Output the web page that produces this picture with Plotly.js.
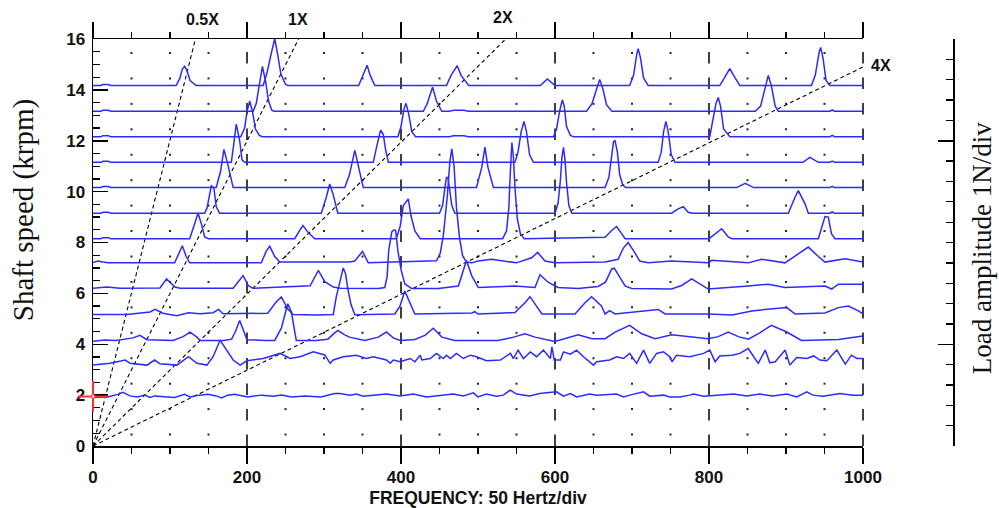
<!DOCTYPE html>
<html>
<head>
<meta charset="utf-8">
<script src="https://cdn.plot.ly/plotly-3.0.1.min.js"></script>
<style>html,body{margin:0;padding:0;background:#fff;}#chart{width:999px;height:508px;}</style>
</head>
<body>
<div id="chart"></div>
<script>
// Shaft speed of each spectrum (krpm) = baseline of each trace
const speedsKrpm = [1.96, 3.18, 4.15, 5.17, 6.17, 7.18, 8.15, 9.15, 10.16, 11.15, 12.16, 13.16, 14.17];

// Each spectrum: [frequency Hz, load amplitude offset (in speed-axis units)]
const spectrum02 = [[0,-0.05],[19,-0.03],[32,0.07],[39,0.15],[48,0.01],[58,-0.03],[67,0.04],[74,-0.05],[80,0.01],[93,-0.03],[106,-0.05],[119,0.07],[126,-0.03],[138,0.04],[149,0.07],[160,0.01],[167,-0.07],[175,0.04],[184,0.07],[201,-0.03],[219,0.04],[234,0],[245,0.04],[258,-0.03],[275,0.01],[296,-0.03],[314,0.1],[321,0.1],[334,0.04],[342,0.08],[351,0],[364,0.04],[381,0.08],[399,0.01],[416,0.08],[433,-0.03],[451,0.04],[468,0.08],[481,0.01],[494,0.13],[500,-0.03],[511,0.08],[524,0],[533,0.04],[542,0.24],[550,0.08],[567,0.01],[580,0.1],[602,0.17],[611,0],[620,0.1],[628,-0.03],[645,0.08],[654,0.04],[680,0.08],[689,-0.03],[697,0.04],[715,0.17],[723,0],[741,0.04],[749,-0.03],[762,-0.03],[775,0.04],[780,0.08],[793,0],[814,0.04],[832,0.08],[849,0.01],[866,0.08],[883,0.01],[901,0.08],[914,-0.03],[927,0.17],[935,0.04],[948,0],[970,0.1],[987,0.04],[1000,0.04]];
const spectrum03 = [[0,0],[22,0.07],[42,0.2],[48,0.07],[70,0],[80,0.2],[87,0.05],[109,0],[124,0.33],[135,0.07],[148,0],[156,0.33],[165,0.98],[174,0.59],[182,0.2],[191,0],[200,0.17],[221,0.26],[243,0.46],[256,0.26],[269,0.33],[286,0.52],[301,0.4],[308,0.07],[312,0.2],[325,0.33],[342,0.39],[355,0.26],[364,0.33],[381,0.2],[386,0.07],[390,0.2],[399,0.13],[412,0.26],[418,0.13],[425,0.39],[427,0.2],[438,0.26],[446,0.46],[455,0.26],[459,0.39],[464,0.26],[472,0.46],[481,0.26],[490,0.39],[498,0.33],[511,0.17],[529,0.2],[542,0.46],[546,0.26],[552,0.59],[559,0.26],[568,0.52],[576,0.33],[585,0.59],[594,0.26],[596,0.72],[599,0.2],[607,0.2],[611,0.52],[620,0.43],[628,0.59],[637,0.33],[650,0],[654,0.13],[671,0.2],[680,0.33],[689,0.26],[697,0.46],[706,0.07],[715,0.59],[723,0.07],[732,0.46],[741,0.52],[749,0.33],[752,0.13],[758,0.39],[775,0.33],[793,0.46],[801,0.59],[808,0.13],[814,0.36],[830,0.39],[840,0.46],[851,0.65],[858,0.33],[864,0.07],[873,0.59],[879,0.09],[886,0.13],[899,0.59],[905,0],[914,0.3],[927,0.26],[936,0.36],[944,0.2],[953,0.17],[966,0.59],[977,0.04],[985,0.39],[992,0.26],[1000,0.26]];
const spectrum04 = [[0,-0.03],[15,0.02],[30,0],[52,0.1],[61,0.2],[70,0.03],[104,0],[117,0.15],[126,0.33],[135,0.13],[139,0],[170,0],[180,0.05],[185,0.35],[190.5,0.78],[195,0.4],[200,0.03],[225,0],[236,0],[244.6,0.48],[249,0.99],[253,1.44],[257.5,1.13],[261,0.48],[264,0],[290,0],[305,0.05],[312,0.25],[318,0.39],[327,0.22],[333,0.13],[353,0],[370.5,0.13],[381,0.33],[390,0.1],[399,0],[418,0.04],[431,0.2],[442,0.48],[453,0.13],[470,0],[526,0],[545,0.12],[561,0.26],[574,0.13],[600,-0.04],[615,0.1],[630,0.22],[648,0.07],[665,0.07],[678,0.33],[697,0.59],[712.6,0.26],[730,0.07],[751.5,0.22],[769,0.17],[799,0.07],[812,0.15],[825,0.33],[838,0.15],[851,0.05],[866,0.3],[881,0.59],[901,0.33],[920,0],[968,0.04],[998,0.17],[1000,0.17]];
const spectrum05 = [[0,0],[44,0],[74,0.1],[80.5,0.2],[91,0.05],[108.7,-0.05],[124,0.07],[139,0.03],[156,0.07],[163,0.2],[169,0.03],[200,0.03],[227,0.05],[238,0.5],[244.6,0.69],[253,0.21],[260,0],[290,-0.02],[312,0],[316,0.7],[320,1.2],[323,1.6],[325,1.83],[328,1.6],[331,1.0],[335,0.4],[340,-0.01],[392,0.02],[398.7,0.33],[405,0.92],[411.7,0.46],[418,0.02],[492,0.06],[496,0.11],[500,0.02],[548,0.08],[561,0.46],[567.5,0.7],[576,0.33],[583,0.02],[626,0.02],[639,0.46],[647.6,0.7],[660.6,0.33],[665,0.02],[671,0.15],[678,0.02],[734,0.2],[743,0.02],[799,0.02],[830,-0.02],[855.5,0.14],[868,0.18],[901,0.27],[912,0.02],[950.6,0.06],[968,0.27],[981,0.33],[994,0.14],[1000,0.02]];
const spectrum06 = [[0,0.03],[18,0.08],[35,0.03],[87,0.04],[95.6,0.4],[106.5,0.08],[113,0.03],[182,0.03],[195,0.53],[201.7,0.13],[208,0.03],[282,0.13],[292.6,0.73],[301,0.29],[312,0.08],[321,0.03],[370.5,0.02],[379,0.06],[382,0.5],[384,1.5],[388,2.25],[391,2.33],[393,2.3],[396,1.5],[400,0.77],[405,0.2],[414,0.02],[448.5,0.02],[474.5,0.12],[481,0.79],[485,1.12],[491.8,0.53],[500.4,0.06],[548,0.12],[574,0.06],[580.5,0.56],[591,0.27],[604,0.06],[630,0.02],[656,0.1],[665.6,0.27],[673.6,0.79],[677,0.82],[691,0.12],[699.6,0.02],[751.5,0],[764.5,0.14],[777.5,0.4],[795,0.06],[799,0],[851,0.12],[877,0.19],[898.7,0.06],[950.6,0.12],[959.3,0],[968,0.19],[1000,0.19]];
const spectrum07 = [[0,0.03],[6.5,0.09],[13,0.05],[19.5,0.02],[106,0.02],[110,0.27],[116,0.69],[121,0.27],[125.6,0.02],[218.6,0.02],[225,0.48],[229.5,0.67],[236,0.27],[242.5,0.05],[333,0.05],[340,0.09],[350,0.47],[357.5,0.02],[444,0.09],[446,0.1],[451,0.4],[455,1.1],[460,2.6],[463.5,4.0],[466,4.5],[469,3.8],[472,2.2],[476,1.0],[480,0.3],[485,0.05],[491.8,0.02],[500,0.09],[517.8,0.16],[550,0.02],[569.7,0.22],[577.5,0.43],[587,0.09],[600,0.02],[665,0.05],[682,0.16],[688.7,0.6],[695,0.82],[704,0.4],[710,0.09],[721,0.02],[751.5,0.09],[799,0.02],[803.5,0.12],[851,0.02],[868.4,0.16],[898.7,0.02],[920,0.47],[929,0.64],[942,0.27],[950.6,0.05],[976.6,0.18],[1000,0.05]];
const spectrum08 = [[0,0],[10,0],[13,0.04],[20,0.04],[23,0],[125.6,0],[132,0.59],[136.4,1.0],[140.7,0.59],[145,0.07],[150,0],[262,0],[268.4,0.33],[272.7,0.52],[279,0.26],[288,0],[394,0],[399,0.5],[403,1.3],[409.5,1.56],[413,0.9],[418,0.3],[425,0],[532,0],[537,0.3],[540,1.2],[542,2.6],[544,3.78],[546,3.2],[548,2.0],[551,0.8],[555,0.2],[560,0],[665,0.06],[673.6,0.32],[680,0.48],[686.6,0.2],[691,0],[800,0],[808,0.2],[816.5,0.39],[825,0.07],[829.5,0],[942,0],[948.5,0.65],[950.6,0.87],[955,0.85],[959,0.2],[963.6,0],[1000,0]];
const spectrum09 = [[0,0],[10,0],[13,0.04],[20,0.04],[23,0],[145,0],[148,0.2],[150,0.5],[153.7,1.08],[157,1.0],[160,0.26],[164.5,0],[296.5,0],[303,0.63],[307.4,1.15],[311.7,0.76],[318,0],[450,0],[454,0.3],[457,1.0],[459,1.41],[461,1.41],[463,0.9],[466,0.3],[470,0],[600,0],[604,0.4],[607,1.3],[609,2.2],[611,2.59],[613,2.1],[615,1.2],[618,0.3],[622,0],[751.5,0],[760,0.17],[766.6,0.26],[773,0.04],[778,0],[903,0],[911.7,0.63],[916,0.89],[924.7,0.37],[929,0],[957,0],[960,0.05],[963,0],[1000,0]];
const spectrum10 = [[0,0],[10,0],[13,0.04],[20,0.04],[23,0],[160,0],[165.8,0.65],[170,1.5],[175,0.92],[182,0],[327,0],[333,0.5],[340,1.46],[346.7,0.6],[351,0],[498,0],[504.8,0.78],[509,1.59],[513,0.78],[520,0],[665,0],[670,0.4],[673,1.2],[676,1.8],[678,1.84],[681,1.4],[684,0.5],[688,0.1],[692,0],[836,0],[847,0.17],[858,0],[957,0],[960,0.05],[963,0],[1000,0]];
const spectrum11 = [[0,0],[10,0],[13,0.04],[20,0.04],[23,0],[179.7,0],[182.7,0.7],[186,1.5],[190.5,0.85],[193.5,0.1],[197,0],[364,0],[369,0.7],[373.6,1.27],[377,1.1],[380,0.5],[383.5,0],[548,0],[552,0.4],[556,1.2],[559.7,1.61],[563,1.2],[567,0.3],[572,0],[734,0],[738,0.4],[741,1.2],[744,1.61],[747,1.2],[751,0.3],[756,0],[922,0],[931,0.2],[942,0],[957,0],[960,0.05],[963,0],[1000,0]];
const spectrum12 = [[0,0],[10,0],[13,0.04],[20,0.04],[23,0],[192,0],[197,0.35],[200,1.0],[203.5,1.39],[207,1.0],[211,0.3],[216,0.05],[220,0],[396,0],[400,0.4],[404,1.1],[406.5,1.31],[410,0.9],[414,0.2],[419,0],[463,0],[468,0.04],[482,0.04],[487,0],[598,0],[602,0.3],[606,1.0],[609.5,1.45],[612,1.2],[615,0.4],[620,0.05],[624,0],[801,0],[804,0.5],[809,1.3],[812,1.54],[815,1.2],[819,0.3],[827,0],[957,0],[960,0.05],[963,0],[1000,0]];
const spectrum13 = [[0,0],[10,0],[13,0.04],[20,0.04],[23,0],[208,0],[212,0.3],[216,1.0],[220,1.76],[224,1.2],[228,0.4],[232,0.05],[235,0],[429,0],[434,0.3],[441,0.95],[446,0.4],[453,0],[463,0],[468,0.04],[482,0.04],[487,0],[641,0],[648,0.3],[654,0.9],[658,1.25],[662,0.9],[667,0.25],[674,0],[860,0],[867,0.2],[873,0.9],[877,1.41],[881,1.0],[886,0.2],[890,0],[957,0],[960,0.05],[963,0],[1000,0]];
const spectrum14 = [[0,0],[10,0],[13,0.04],[20,0.04],[23,0],[108,0],[113,0.3],[116,0.65],[119,0.76],[122,0.6],[126,0.2],[134,0],[221,0],[226,0.5],[231,1.2],[236,1.84],[240,1.2],[244,0.45],[250,0.05],[253,0],[345,0],[350,0.35],[356,0.8],[360,0.4],[366,0],[459,0],[465,0.4],[473,0.78],[478,0.4],[488,0],[581,0],[590,0.26],[600,0],[697,0],[702,0.4],[706,1.2],[708,1.45],[711,1.1],[715,0.3],[721,0],[814,0],[820,0.3],[827,0.67],[832,0.4],[840,0],[933,0],[938,0.4],[943,1.3],[945,1.5],[948,1.1],[952,0.2],[957,0],[1000,0]];

// Order lines (from origin): labels and end points
const orderLabels = ['0.5X', '1X', '2X', '4X'];
const orderEndFreq = [133, 267, 536, 1000];
const orderEndSpeed = [16, 16, 16, 14.9];

// Axis tick labels
const freqTicks = [0, 200, 400, 600, 800, 1000];
const speedTicks = [0, 2, 4, 6, 8, 10, 12, 14, 16];

const spectra = [spectrum02, spectrum03, spectrum04, spectrum05, spectrum06, spectrum07, spectrum08,
                 spectrum09, spectrum10, spectrum11, spectrum12, spectrum13, spectrum14];

const traces = [];

// dotted background grid
const gx = [], gy = [];
for (let f = 50; f < 1000; f += 50) {
  if (f % 200 === 0) continue;
  for (let k = 0; k < 16; k++) { gx.push(f); gy.push(k + 0.45); }
}
traces.push({x: gx, y: gy, mode: 'markers', type: 'scatter', hoverinfo: 'skip', showlegend: false,
  marker: {symbol: 'square', size: 2, color: '#222', line: {width: 0}}});

// order lines
orderLabels.forEach((lab, i) => {
  traces.push({x: [0, orderEndFreq[i]], y: [0, orderEndSpeed[i]], mode: 'lines', type: 'scatter',
    name: lab, hoverinfo: 'skip', showlegend: false,
    line: {color: '#000', width: 1.1, dash: '4px,3px'}});
});

// spectra
spectra.forEach((s, i) => {
  traces.push({x: s.map(p => p[0]), y: s.map(p => speedsKrpm[i] + p[1]), mode: 'lines', type: 'scatter',
    name: speedsKrpm[i] + ' krpm', showlegend: false, line: {color: '#2b2bff', width: 1.5}});
});

// red cursor cross
traces.push({x: [0], y: [1.95], mode: 'markers', type: 'scatter', cliponaxis: false, hoverinfo: 'skip', showlegend: false,
  marker: {symbol: 'cross-thin', size: 22, line: {color: '#ff3030', width: 2}}});
traces.push({x: [0], y: [1.95], mode: 'markers', type: 'scatter', cliponaxis: false, hoverinfo: 'skip', showlegend: false,
  marker: {symbol: 'circle', size: 4, color: '#ffd0d0', line: {color: '#ff3030', width: 1}}});

// invisible trace carrying the amplitude scale axis
traces.push({x: [0], y: [0], yaxis: 'y2', mode: 'markers', type: 'scatter', hoverinfo: 'skip', showlegend: false,
  marker: {opacity: 0}});

const plotW = 860;            // 93 .. 953 px
const plotH = 407.3;
const xFrac = 770 / plotW;    // main axis spans 770 px

// dashed vertical lines at major frequencies
const shapes = [];
[200, 400, 600, 800, 1000].forEach(f => {
  shapes.push({type: 'line', xref: 'paper', yref: 'paper', x0: f / 1000 * xFrac, x1: f / 1000 * xFrac, y0: 0, y1: 1,
    layer: 'below', line: {color: '#000', width: 1.5, dash: '11.5px,14px'}});
});

const labelFont = {family: 'Liberation Sans, Arial, sans-serif', size: 16, weight: 'bold', color: '#111'};
const labelPos = [[142, 1.049, 'center'], [266, 1.049, 'center'], [532, 1.053, 'center'], [1008, 14.95 / 16, 'left']];
const annotations = orderLabels.map((lab, i) => ({
  x: labelPos[i][0] / 1000 * xFrac, y: labelPos[i][1], xref: 'paper', yref: 'paper', text: lab, showarrow: false,
  xanchor: labelPos[i][2], yanchor: 'middle', font: labelFont
}));
// axis titles placed as in the reference
annotations.push({x: (23 - 93) / plotW, y: (446 - 210) / plotH, xref: 'paper', yref: 'paper', text: 'Shaft speed (krpm)',
  textangle: -90, showarrow: false, xanchor: 'center', yanchor: 'middle',
  font: {family: 'Liberation Serif, Times New Roman, serif', size: 29, color: '#111'}});
annotations.push({x: (982 - 93) / plotW, y: (446 - 248) / plotH, xref: 'paper', yref: 'paper', text: 'Load amplitude 1N/div',
  textangle: -90, showarrow: false, xanchor: 'center', yanchor: 'middle',
  font: {family: 'Liberation Serif, Times New Roman, serif', size: 27, color: '#111'}});

const layout = {
  width: 999, height: 508,
  margin: {l: 93, r: 46, t: 38.7, b: 62, pad: 0},
  paper_bgcolor: '#fff', plot_bgcolor: '#fff',
  font: {family: 'Liberation Sans, Arial, sans-serif', color: '#111'},
  showlegend: false,
  xaxis: {
    domain: [0, xFrac], range: [0, 1000], tickmode: 'array', tickvals: freqTicks, ticktext: freqTicks.map(String),
    ticks: 'outside', ticklen: 16, tickwidth: 1.5, tickcolor: '#000',
    minor: {dtick: 50, ticks: 'outside', ticklen: 6, tickwidth: 1.3, tickcolor: '#000', showgrid: false},
    showline: true, linecolor: '#000', linewidth: 1.5, mirror: 'ticks',
    showgrid: false, zeroline: false, ticklabelstandoff: -1,
    tickfont: {family: 'Liberation Sans, Arial, sans-serif', size: 17, weight: 'bold', color: '#111'},
    title: {text: 'FREQUENCY: 50 Hertz/div', standoff: 7,
      font: {family: 'Liberation Sans, Arial, sans-serif', size: 17.5, weight: 'bold', color: '#111'}}
  },
  yaxis: {
    range: [0, 16], tickmode: 'array', tickvals: speedTicks, ticktext: speedTicks.map(String),
    ticks: 'inside', ticklen: 15, tickwidth: 1.5, tickcolor: '#000', layer: 'below traces',
    minor: {dtick: 0.5, ticks: 'inside', ticklen: 7, tickwidth: 1.3, tickcolor: '#000', showgrid: false},
    showline: true, linecolor: '#000', linewidth: 1.5, showgrid: false, zeroline: false, ticklabelstandoff: 3,
    tickfont: {family: 'Liberation Sans, Arial, sans-serif', size: 17, weight: 'bold', color: '#111'}
  },
  yaxis2: {
    overlaying: 'y', anchor: 'free', position: 1, side: 'right', range: [0, 20],
    tickmode: 'array', tickvals: [0, 5, 15, 20], showticklabels: false,
    ticks: 'inside', ticklen: 15, tickwidth: 1.5, tickcolor: '#000',
    minor: {dtick: 1, ticks: 'inside', ticklen: 7, tickwidth: 1.3, tickcolor: '#000', showgrid: false},
    showline: true, linecolor: '#000', linewidth: 1.5, showgrid: false, zeroline: false
  },
  shapes: shapes,
  annotations: annotations
};

Plotly.newPlot('chart', traces, layout, {displayModeBar: false, staticPlot: true});
</script>
</body>
</html>
